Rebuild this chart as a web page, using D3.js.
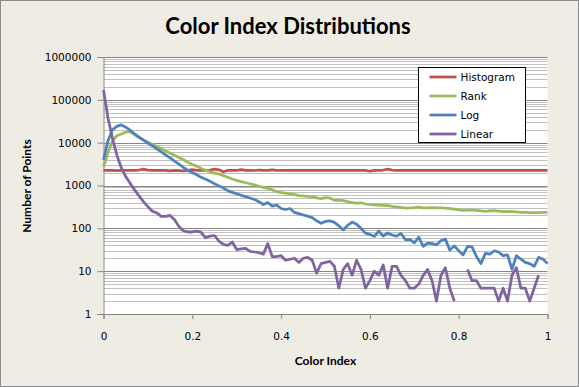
<!DOCTYPE html>
<html>
<head>
<meta charset="utf-8">
<script src="https://cdn.jsdelivr.net/npm/d3@7"></script>
<style>
  body { margin: 0; background: #fff; }
  text { font-family: "DejaVu Sans", sans-serif; }
</style>
</head>
<body>
<script>
// categories: colour index from 0 to 1 in steps of 0.01
const colorIndex = d3.range(0, 101).map(i => i / 100)

// series values (null = zero count, not drawn on log axis)
const histogram = [
  2250,2240,2260,2230,2250,2240,2260,2250,2300,2420,
  2280,2250,2260,2240,2250,2200,2250,2230,2190,2260,
  2350,2250,2240,2260,2300,2400,2320,2100,2250,2260,
  2240,2350,2250,2270,2240,2300,2250,2260,2320,2250,
  2240,2250,2260,2240,2250,2260,2240,2250,2260,2250,
  2240,2260,2250,2240,2260,2250,2240,2250,2260,2250,
  2150,2250,2260,2300,2400,2280,2250,2240,2260,2250,
  2240,2260,2250,2240,2250,2260,2240,2250,2260,2250,
  2240,2260,2250,2240,2250,2260,2240,2250,2260,2250,
  2240,2250,2260,2240,2250,2260,2240,2250,2260,2250,2250]
const rank = [
  2700,5800,11000,14500,16000,17500,18000,15500,13200,11600,
  10300,9200,8100,7200,6400,5700,5100,4500,4000,3500,
  3100,2800,2500,2280,2100,1950,1850,1700,1560,1420,
  1320,1230,1160,1100,1030,960,900,850,790,720,
  680,660,640,610,580,570,555,545,515,495,
  520,510,450,455,445,420,400,390,395,370,
  360,352,348,345,340,325,315,308,298,300,
  305,312,302,300,305,300,302,296,290,280,
  270,262,265,268,262,255,250,255,260,252,
  246,248,246,242,236,235,234,233,234,236,235]
const logDist = [
  4000,11000,20000,24000,26000,23000,19500,16000,13500,11500,
  9800,8400,7200,6100,5200,4400,3700,3150,2650,2250,
  2000,1780,1550,1400,1250,1100,980,870,760,690,
  640,590,550,510,470,420,360,400,330,350,
  290,275,290,235,220,205,192,178,150,131,
  145,150,138,115,92,118,140,125,100,77,
  72,65,86,66,78,70,66,76,54,55,
  46,62,38,45,44,41,52,56,31,39,
  30,24,38,37,22,15,26,25,30,28,
  23,24,11,23,19,16,15,13,21,19,15]
const linear = [
  170000,38000,13000,5200,2600,1620,1130,790,570,420,
  320,250,230,190,190,200,158,110,88,82,
  82,86,80,60,66,68,50,42,40,48,
  32,33,34,29,28,27,25,44,22,22,
  23,18,19,20,16,20,21,18,9,15,
  16,17,13,4,11,15,8,18,11,4,
  6,10,8,14,4,13,13,8,6,4,
  4,5,8,11,6,2,8,12,4,2,
  null,null,11,6,6,4,4,4,4,2,
  4,2,8,12,4,4,2,4,8,null,null]

const seriesNames = ['Histogram', 'Rank', 'Log', 'Linear']
const seriesValues = [histogram, rank, logDist, linear]
const seriesColors = ['#C0504D', '#9BBB59', '#4F81BD', '#8064A2']

const yTicks = [1, 10, 100, 1000, 10000, 100000, 1000000]
const xTicks = [0, 0.2, 0.4, 0.6, 0.8, 1]

const WIDTH = 579
const HEIGHT = 387
const PLOT = {left: 103.5, right: 547.5, top: 57, bottom: 314}

const svg = d3.select('body').append('svg')
  .attr('width', WIDTH)
  .attr('height', HEIGHT)

// chart area
svg.append('rect')
  .attr('x', 0.5).attr('y', 0.5)
  .attr('width', WIDTH - 1).attr('height', HEIGHT - 1)
  .attr('fill', '#EEECE3')
  .attr('stroke', '#8C8C8C')

// plot area
svg.append('rect')
  .attr('x', PLOT.left).attr('y', PLOT.top)
  .attr('width', PLOT.right - PLOT.left).attr('height', PLOT.bottom - PLOT.top)
  .attr('fill', '#fff')

const x = d3.scaleLinear().domain([0, 1]).range([PLOT.left, PLOT.right])
const y = d3.scaleLog().domain([1, 1000000]).range([PLOT.bottom, PLOT.top])

// gridlines: minor (2..9) and major (decades)
const minor = []
yTicks.slice(0, -1).forEach(d => { for (let k = 2; k < 10; k++) minor.push(d * k) })

svg.append('g').selectAll('line').data(minor).join('line')
  .attr('x1', PLOT.left).attr('x2', PLOT.right)
  .attr('y1', d => Math.round(y(d)) + 0.5).attr('y2', d => Math.round(y(d)) + 0.5)
  .attr('stroke', '#C0C0C0')

svg.append('g').selectAll('line').data(yTicks.slice(1)).join('line')
  .attr('x1', PLOT.left).attr('x2', PLOT.right)
  .attr('y1', d => Math.round(y(d)) + 0.5).attr('y2', d => Math.round(y(d)) + 0.5)
  .attr('stroke', '#868686')

// axes
const yAxis = svg.append('g')
  .attr('transform', `translate(${PLOT.left},0)`)
  .call(d3.axisLeft(y).tickValues(yTicks).tickFormat(d3.format('d')).tickSize(6).tickPadding(6))
const xAxis = svg.append('g')
  .attr('transform', `translate(0,${PLOT.bottom})`)
  .call(d3.axisBottom(x).tickValues(xTicks).tickFormat(d => d === 0 || d === 1 ? d : d3.format('.1f')(d)).tickSize(5).tickPadding(14))

;[yAxis, xAxis].forEach(a => {
  a.selectAll('path, line').attr('stroke', '#868686')
  a.selectAll('text').attr('fill', '#000').style('font-size', '10.5px').style('font-family', '"DejaVu Sans", sans-serif')
})

// series lines
const line = d3.line()
  .defined(d => d.v != null && d.v > 0)
  .x(d => x(d.x))
  .y(d => y(d.v))

seriesValues.forEach((vals, i) => {
  svg.append('path')
    .datum(colorIndex.map((c, j) => ({x: c, v: vals[j]})))
    .attr('fill', 'none')
    .attr('stroke', seriesColors[i])
    .attr('stroke-width', 2.75)
    .attr('stroke-linejoin', 'round')
    .attr('d', line)
})

// titles
svg.append('text')
  .attr('x', 288).attr('y', 34)
  .attr('text-anchor', 'middle')
  .style('font-family', 'Lato, sans-serif')
  .style('font-weight', 'bold')
  .style('font-size', '22px')
  .text('Color Index Distributions')

svg.append('text')
  .attr('x', (PLOT.left + PLOT.right) / 2).attr('y', 365)
  .attr('text-anchor', 'middle')
  .style('font-family', 'Lato, sans-serif')
  .style('font-weight', 'bold')
  .style('font-size', '12px')
  .text('Color Index')

svg.append('text')
  .attr('transform', 'translate(31,186) rotate(-90)')
  .attr('text-anchor', 'middle')
  .style('font-family', 'Lato, sans-serif')
  .style('font-weight', 'bold')
  .style('font-size', '12px')
  .text('Number of Points')

// legend
const legend = svg.append('g').attr('transform', 'translate(418.5,67.5)')
legend.append('rect')
  .attr('width', 107).attr('height', 75)
  .attr('fill', '#fff').attr('stroke', '#000')
const item = legend.selectAll('g.item').data(seriesNames).join('g')
  .attr('class', 'item')
  .attr('transform', (d, i) => `translate(0,${9.5 + i * 19})`)
item.append('line')
  .attr('x1', 11).attr('x2', 38)
  .attr('stroke', (d, i) => seriesColors[i])
  .attr('stroke-width', 2.75)
item.append('text')
  .attr('x', 42).attr('dy', '0.36em')
  .style('font-size', '10.5px')
  .text(d => d)
</script>
</body>
</html>
